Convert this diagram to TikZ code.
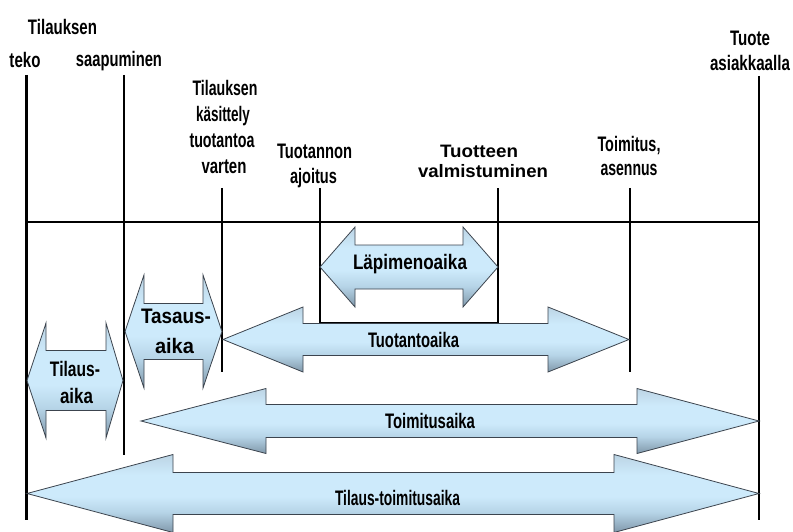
\documentclass[tikz,border=0pt]{standalone}
\usepackage{fontspec}
\setmainfont{Liberation Sans}
\usepackage{graphicx}

% colours of the time-span arrows
\definecolor{spdark}{RGB}{128,152,170}
\definecolor{spmid}{RGB}{182,212,231}
\definecolor{splight}{RGB}{205,234,251}
\definecolor{sptop}{RGB}{188,212,228}
\definecolor{spline}{RGB}{60,68,78}

% vertical fill: dark at the bottom, light in the middle, slightly grey on top
\pgfdeclareverticalshading{spanfill}{100bp}{color(0bp)=(spdark); color(25bp)=(spdark); color(38bp)=(spmid); color(48bp)=(splight); color(62bp)=(splight); color(75bp)=(sptop); color(100bp)=(sptop)}

% condensed text: stretch a word to a given width, keeping its height
\newcommand\sq[2]{\resizebox{#1pt}{\height}{#2}}

% double-headed span: x1, x2, centre y, shaft half-height, head half-height,
% left head length, right head length
\newcommand\timespan[7]{%
  \path[spanarrow] (#1,#3) -- ({#1+#6},{#3-#5}) -- ({#1+#6},{#3-#4})
    -- ({#2-#7},{#3-#4}) -- ({#2-#7},{#3-#5}) -- (#2,#3)
    -- ({#2-#7},{#3+#5}) -- ({#2-#7},{#3+#4}) -- ({#1+#6},{#3+#4})
    -- ({#1+#6},{#3+#5}) -- cycle;}

\tikzset{
  timeline/.style={line width=2.6pt, line cap=butt, line join=miter},
  spanarrow/.style={shading=spanfill, draw=spline, line width=0.8pt, line join=miter},
  lab/.style={inner sep=0pt, anchor=base, font=\fontsize{21}{25}\selectfont\bfseries},
  smalllab/.style={lab, font=\fontsize{18}{21}\selectfont\bfseries},
}

\begin{document}
\begin{tikzpicture}[x=1pt,y=-1pt]
\useasboundingbox (0,0) rectangle (793,532);

% events on the time axis
\coordinate (e1t) at (26.5,75);  \coordinate (e1b) at (26.5,520);
\coordinate (e2t) at (124,75);   \coordinate (e2b) at (124,455);
\coordinate (e3t) at (222,188);  \coordinate (e3b) at (222,372);
\coordinate (e4t) at (320,188);  \coordinate (e4b) at (320,323);
\coordinate (e5t) at (498,188);  \coordinate (e5b) at (498,323);
\coordinate (e6t) at (630,188);  \coordinate (e6b) at (630,372);
\coordinate (e7t) at (759,76);   \coordinate (e7b) at (759,520);
\coordinate (ax1) at (26.5,222); \coordinate (ax2) at (759,222);

\draw[timeline] (ax1) -- (ax2);
\draw[timeline] (e1t) -- (e1b);
\draw[timeline] (e2t) -- (e2b);
\draw[timeline] (e3t) -- (e3b);
\draw[timeline] (e4t) -- (e4b) -- (e5b) -- (e5t);
\draw[timeline] (e6t) -- (e6b);
\draw[timeline] (e7t) -- (e7b);

% time spans
\timespan{320}{498}{267}{22}{40}{35}{35}
\timespan{125}{222}{331.5}{28}{56.5}{19}{19}
\timespan{27}{123}{380.5}{30}{57.5}{19}{17}
\timespan{223}{629}{339.5}{16}{32.5}{80}{81}
\timespan{141}{759}{421}{16.5}{32.5}{125}{122}
\timespan{27}{759}{493.5}{21}{39}{146}{145}

% event labels
\node[lab] (tk-a) at (62.5,35) {\sq{69}{Tilauksen}};
\node[lab] (tk-b) at (25,68) {\sq{31}{teko}};
\node[lab] (sp) at (119,67) {\sq{86}{saapuminen}};
\node[lab] (kas-a) at (225,96) {\sq{65}{Tilauksen}};
\node[lab] (kas-b) at (223,122) {\sq{54}{käsittely}};
\node[lab] (kas-c) at (222,148) {\sq{65}{tuotantoa}};
\node[lab] (kas-d) at (224,174) {\sq{45}{varten}};
\node[lab] (ajo-a) at (314.5,159) {\sq{75}{Tuotannon}};
\node[lab] (ajo-b) at (313.5,183) {\sq{47}{ajoitus}};
\node[smalllab] (val-a) at (479,158) {\sq{78}{Tuotteen}};
\node[smalllab] (val-b) at (483,178) {\sq{130}{valmistuminen}};
\node[lab] (toi-a) at (629,152) {\sq{63}{Toimitus,}};
\node[lab] (toi-b) at (629,176) {\sq{57}{asennus}};
\node[lab] (as-a) at (750,46) {\sq{40}{Tuote}};
\node[lab] (as-b) at (750,71) {\sq{80}{asiakkaalla}};

% span labels
\node[lab] (lpm) at (410,269) {\sq{114}{Läpimenoaika}};
\node[lab] (tas-a) at (176,323) {\sq{70}{Tasaus-}};
\node[lab] (tas-b) at (174.5,353) {\sq{39}{aika}};
\node[lab] (tla-a) at (75,376) {\sq{50}{Tilaus-}};
\node[lab] (tla-b) at (76.5,403) {\sq{33}{aika}};
\node[lab] (tuo) at (413.5,347) {\sq{91}{Tuotantoaika}};
\node[lab] (tmi) at (430,428) {\sq{90}{Toimitusaika}};
\node[lab] (tto) at (397.5,505) {\sq{125}{Tilaus-toimitusaika}};
\end{tikzpicture}
\end{document}
